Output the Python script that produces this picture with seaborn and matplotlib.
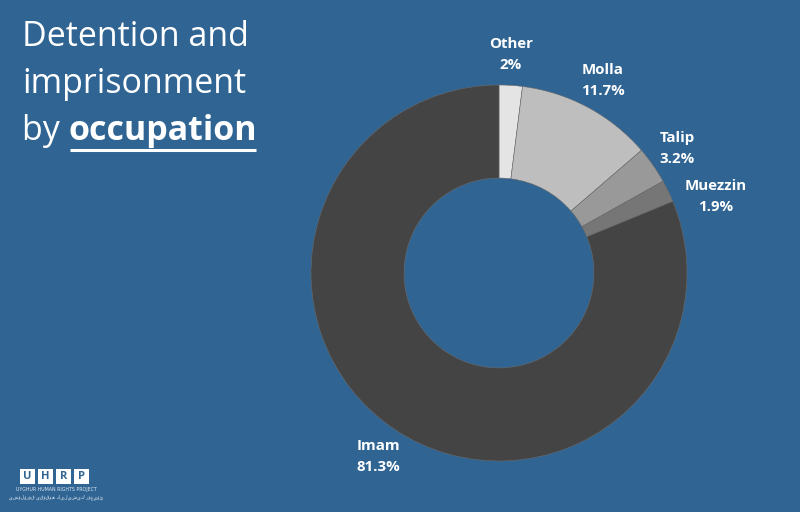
import matplotlib
matplotlib.use("Agg")
import matplotlib.pyplot as plt
import seaborn as sns

categories = ["Other", "Molla", "Talip", "Muezzin", "Imam"]
shares = [2.0, 11.7, 3.2, 1.9, 81.3]
pct_labels = ["2%", "11.7%", "3.2%", "1.9%", "81.3%"]

BG = "#2f6493"
sns.set_style("white")
plt.rcParams['font.family'] = ['Open Sans', 'DejaVu Sans']
colors = sns.color_palette(["#e4e4e4", "#bebebe", "#999999", "#767676", "#444444"])

fig = plt.figure(figsize=(8, 5.12), dpi=100)
fig.patch.set_facecolor(BG)
ax = fig.add_axes([0, 0, 1, 1])
ax.set_facecolor(BG)

H = 512
cx, cy, R = 499, H - 273, 188
wedges, _ = ax.pie(shares, colors=colors, startangle=90, counterclock=False,
                   center=(cx, cy), radius=R, frame=True,
                   wedgeprops=dict(width=R * 0.495, linewidth=0.4, edgecolor="#6a6a6a"))
ax.set_xlim(0, 800)
ax.set_ylim(0, 512)
ax.set_axis_off()

# slice labels (annotation positions in pixel coords)
label_pos = {"Other": (511, 44), "Molla": (603, 70), "Talip": (677, 138),
             "Muezzin": (716, 186), "Imam": (378, 446)}
for cat, pl in zip(categories, pct_labels):
    x, y = label_pos[cat]
    ax.text(x, H - y, cat, color="white", fontsize=10.8, fontweight="bold",
            ha="center", va="center")
    ax.text(x, H - y - 21, pl, color="white", fontsize=10.8, fontweight="bold",
            ha="center", va="center")

# title
tkw = dict(color="white", fontsize=24.5, ha="left", va="center")
ax.text(22, H - 37, "Detention and", **tkw)
ax.text(22, H - 84, "imprisonment", **tkw)
t1 = ax.text(22, H - 131, "by ", **tkw)
fig.canvas.draw()
r = fig.canvas.get_renderer()
bb = t1.get_window_extent(r)
t2 = ax.text(bb.x1, H - 131, "occupation", color="white", fontsize=24.5,
             fontweight="bold", ha="left", va="center")
fig.canvas.draw()
bb2 = t2.get_window_extent(r)
ax.plot([bb2.x0 + 1, bb2.x1 - 1], [H - 150, H - 150], color="white", lw=2.2,
        solid_capstyle="butt")

# logo
for i, ch in enumerate("UHRP"):
    x0 = 20 + i * 18
    ax.add_patch(plt.Rectangle((x0, H - 484), 15, 15, facecolor="white", edgecolor="none"))
    ax.text(x0 + 7.5, H - 476.5, ch, color=BG, fontsize=8, fontweight="bold",
            ha="center", va="center")
ax.text(56, H - 490, "UYGHUR HUMAN RIGHTS PROJECT", color="#dfe8f0", fontsize=3.4,
        ha="center", va="center", family=["DejaVu Sans"])
ax.text(56, H - 497, "ئۇيغۇر كىشىلىك ھوقۇقى قۇرۇلۇشى"[::-1], color="#dfe8f0", fontsize=3.4,
        ha="center", va="center", family=["DejaVu Sans"])

fig.savefig("out.png", dpi=100, facecolor=BG)
